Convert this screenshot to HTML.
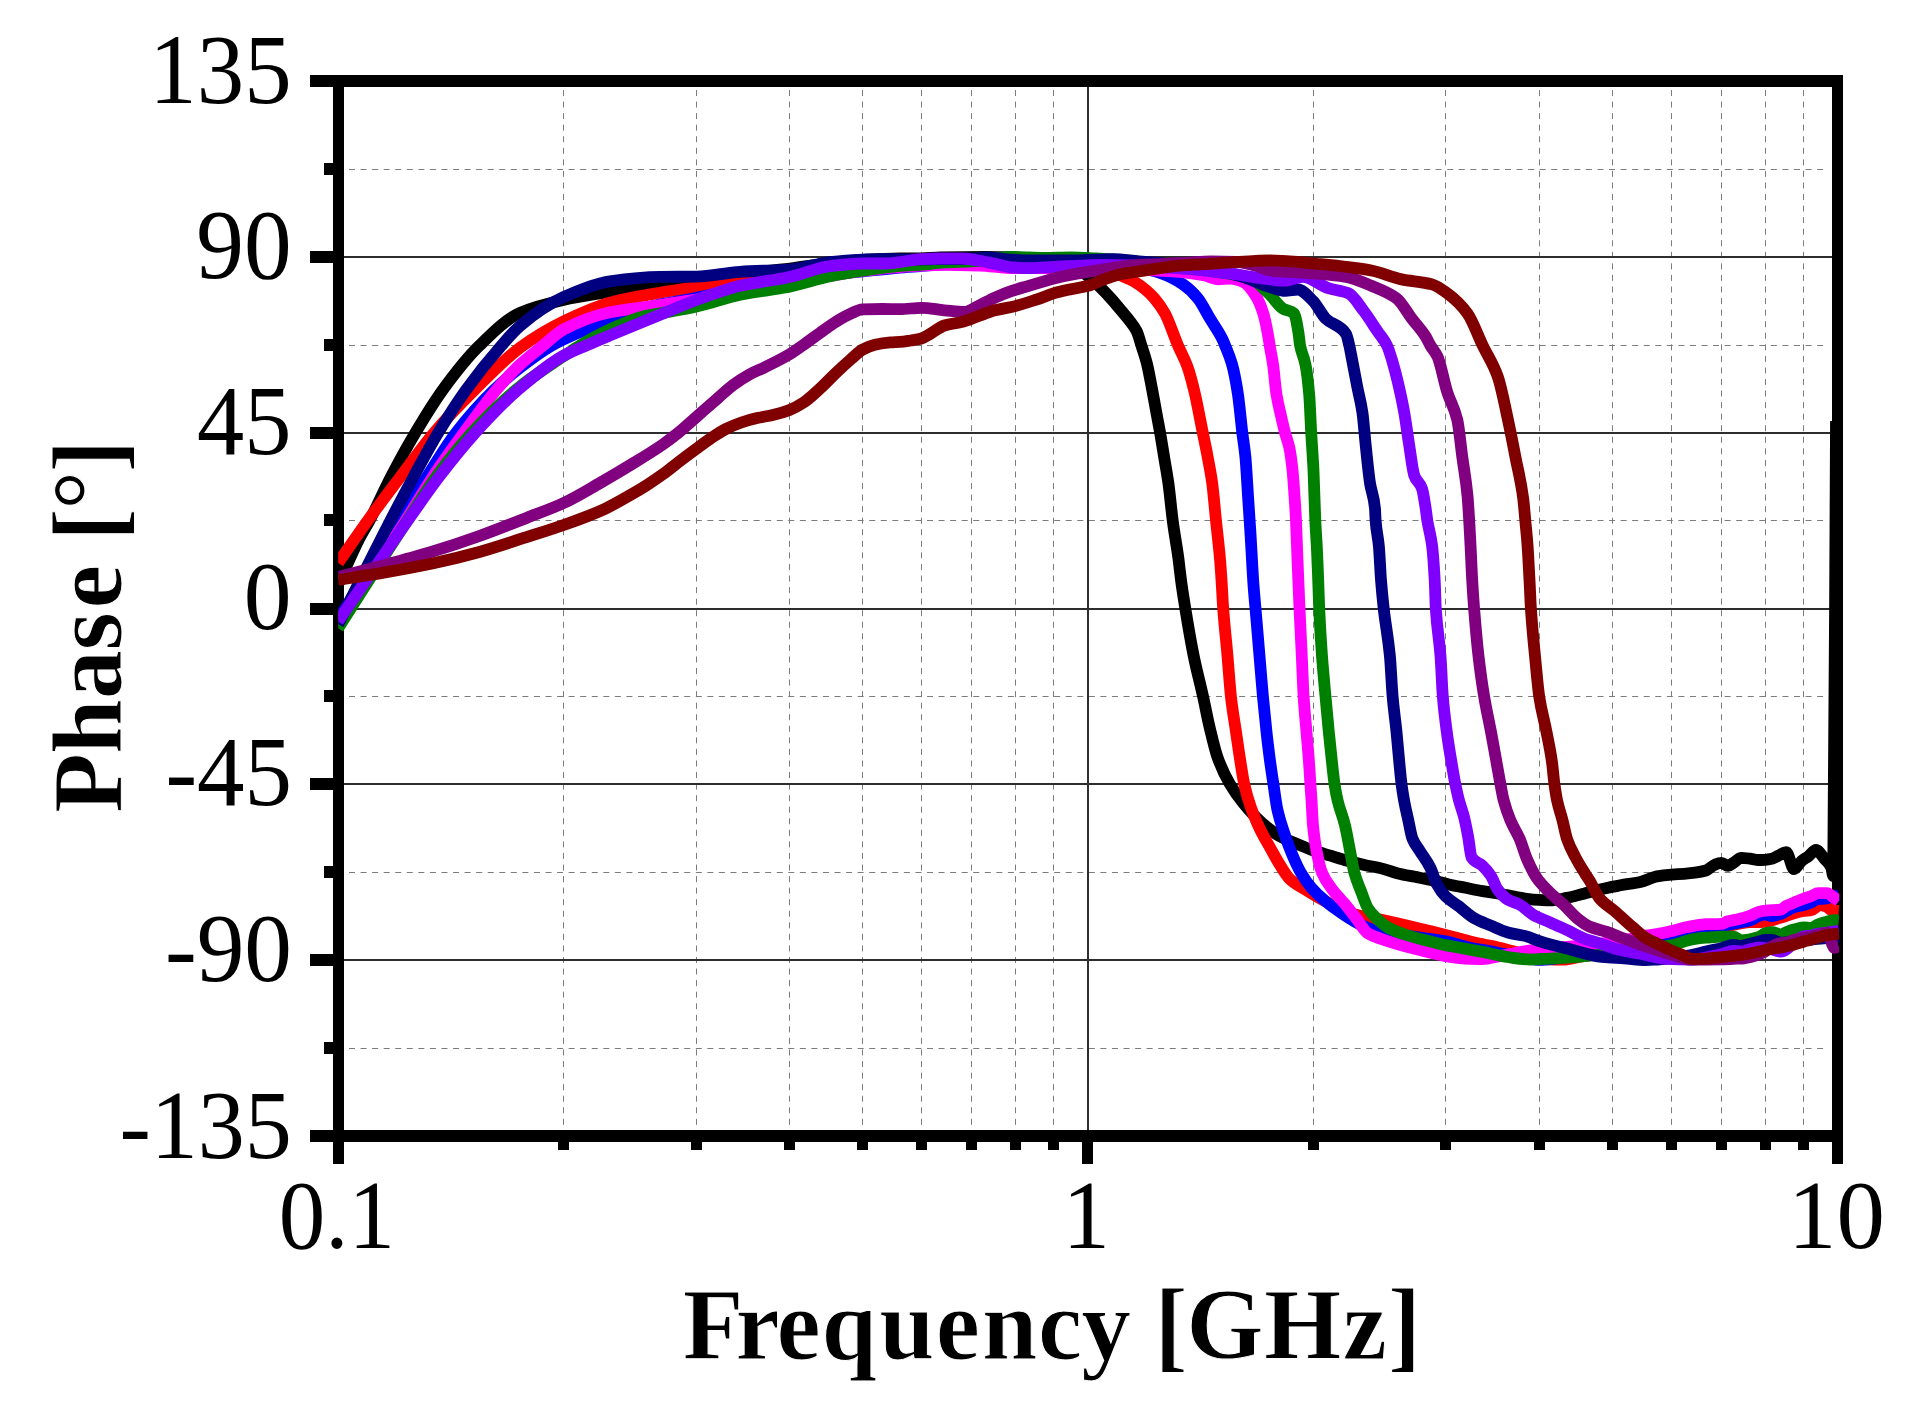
<!DOCTYPE html><html><head><meta charset="utf-8"><title>Phase vs Frequency</title>
<style>html,body{margin:0;padding:0;background:#fff}svg{display:block}text{font-family:"Liberation Serif",serif;font-size:100px;fill:#000}</style></head><body>
<svg width="1910" height="1422" viewBox="0 0 1910 1422">
<rect width="1910" height="1422" fill="#fff"/>
<path d="M563.5 90V1125M696.5 90V1125M789.5 90V1125M862.5 90V1125M921.5 90V1125M971.5 90V1125M1015.5 90V1125M1053.5 90V1125M1313.5 90V1125M1445.5 90V1125M1539.5 90V1125M1612.5 90V1125M1671.5 90V1125M1721.5 90V1125M1765.5 90V1125M1803.5 90V1125M349 169.5H1828M349 345.5H1828M349 520.5H1828M349 696.5H1828M349 872.5H1828M349 1048.5H1828" stroke="#7c7c7c" stroke-width="1" stroke-dasharray="6 5.56" fill="none"/>
<path d="M338 257H1838M338 433H1838M338 609H1838M338 784H1838M338 960H1838M1088 81V1136" stroke="#2d2d2d" stroke-width="2" fill="none"/>
<path d="M333 75H1843V87H333ZM333 1130H1843V1142H333ZM333 75H344V1142H333ZM1832 75H1843V1142H1832ZM310 75H334V87H310ZM310 251H334V263H310ZM310 427H334V439H310ZM310 603H334V615H310ZM310 778H334V790H310ZM310 954H334V966H310ZM310 1130H334V1142H310ZM324 163H334V175H324ZM324 339H334V351H324ZM324 514H334V526H324ZM324 690H334V702H324ZM324 866H334V878H324ZM324 1042H334V1054H324ZM333 1141H344V1164H333ZM1082 1141H1093V1164H1082ZM1832 1141H1843V1164H1832ZM558 1141H569V1150H558ZM691 1141H702V1150H691ZM784 1141H795V1150H784ZM857 1141H868V1150H857ZM916 1141H927V1150H916ZM966 1141H977V1150H966ZM1010 1141H1021V1150H1010ZM1048 1141H1059V1150H1048ZM1308 1141H1319V1150H1308ZM1440 1141H1451V1150H1440ZM1534 1141H1545V1150H1534ZM1607 1141H1618V1150H1607ZM1666 1141H1677V1150H1666ZM1716 1141H1727V1150H1716ZM1760 1141H1771V1150H1760ZM1798 1141H1809V1150H1798Z" fill="#000"/>
<clipPath id="c"><rect x="338.2" y="60" width="1501" height="1100"/></clipPath>
<g clip-path="url(#c)" fill="none" stroke-width="11.8" stroke-linejoin="round">
<path stroke="#000" d="M338.1 584.0C340.6 578.7 343.1 573.4 345.6 568.1C349.9 558.8 354.3 548.4 358.6 540.0C362.3 532.9 365.9 527.3 369.6 520.4C376.9 506.7 384.1 489.9 391.4 476.0C399.4 460.7 407.4 446.2 415.4 432.8C424.5 417.5 433.6 402.5 442.7 390.0C455.0 373.2 467.2 357.5 479.5 345.6C493.0 332.5 506.5 318.8 520.0 312.9C534.5 306.6 548.9 303.2 563.4 300.0C578.9 296.5 594.5 294.4 610.0 291.7C626.7 288.9 643.3 285.8 660.0 283.5C672.1 281.8 684.3 280.5 696.4 279.0C710.9 277.2 725.5 275.1 740.0 273.5C756.7 271.6 773.3 270.4 790.0 268.5C803.3 266.9 816.7 264.5 830.0 263.0C840.7 261.8 851.3 260.6 862.0 260.0C874.7 259.3 887.3 258.6 900.0 258.5C907.1 258.4 914.3 258.5 921.4 258.4C927.6 258.3 933.8 257.6 940.0 257.5C955.0 257.2 970.0 257.0 985.0 257.0C993.3 257.0 1001.7 257.1 1010.0 257.2C1020.0 257.3 1030.0 257.9 1040.0 258.5C1046.7 258.9 1053.3 259.4 1060.0 260.5C1063.3 261.1 1066.7 262.5 1070.0 264.0C1073.3 265.5 1076.7 267.7 1080.0 270.0C1083.3 272.3 1086.7 275.2 1090.0 278.0C1093.5 281.0 1097.0 284.1 1100.5 287.5C1104.7 291.6 1109.0 296.2 1113.2 301.0C1116.0 304.2 1118.8 307.7 1121.6 311.1C1124.4 314.5 1127.2 317.5 1130.0 321.3C1132.3 324.3 1134.5 326.7 1136.8 331.4C1138.3 334.5 1139.9 340.7 1141.4 345.6C1143.2 351.4 1145.1 356.3 1146.9 363.5C1148.6 370.2 1150.3 380.0 1152.0 388.8C1153.7 397.5 1155.3 407.0 1157.0 416.0C1158.0 421.6 1159.1 426.8 1160.1 432.7C1161.6 441.2 1163.1 450.9 1164.6 460.0C1165.9 467.7 1167.1 474.2 1168.4 483.2C1169.8 493.4 1171.3 509.6 1172.7 520.5C1174.6 535.2 1176.6 544.6 1178.5 559.1C1179.3 565.4 1180.2 573.8 1181.0 580.0C1182.4 590.7 1183.9 599.7 1185.3 608.5C1188.1 625.7 1190.9 642.2 1193.7 656.0C1196.8 671.2 1199.9 682.3 1203.0 696.3C1205.2 706.1 1207.3 717.7 1209.5 726.8C1212.2 738.0 1214.8 749.7 1217.5 757.2C1221.6 768.8 1225.7 776.8 1229.8 783.9C1234.2 791.5 1238.6 797.4 1243.0 802.8C1249.3 810.6 1255.7 817.5 1262.0 823.0C1268.0 828.2 1274.0 833.0 1280.0 836.3C1285.6 839.4 1291.3 841.5 1296.9 843.9C1302.5 846.3 1308.2 848.7 1313.8 850.6C1319.4 852.5 1325.0 854.0 1330.6 855.7C1336.2 857.4 1341.9 859.3 1347.5 860.8C1353.1 862.3 1358.8 863.7 1364.4 865.0C1370.0 866.3 1375.7 867.0 1381.3 868.4C1386.9 869.7 1392.5 872.1 1398.1 873.4C1403.7 874.8 1409.4 875.7 1415.0 876.8C1420.6 877.9 1426.3 878.9 1431.9 880.2C1437.5 881.5 1443.2 883.1 1448.8 884.4C1454.4 885.7 1460.1 886.7 1465.7 887.8C1471.3 888.9 1476.9 890.1 1482.5 891.1C1488.1 892.1 1493.8 892.7 1499.4 893.7C1505.0 894.7 1510.7 896.0 1516.3 897.0C1521.9 898.0 1527.6 899.2 1533.2 899.6C1538.8 900.0 1544.4 900.4 1550.0 900.4C1555.6 900.4 1561.3 898.9 1566.9 897.9C1572.5 896.9 1578.2 895.1 1583.8 893.7C1589.2 892.3 1594.6 890.8 1600.0 889.5C1602.3 889.0 1604.6 888.5 1606.9 888.0C1612.5 886.8 1618.2 885.6 1623.8 884.6C1629.3 883.6 1634.9 883.3 1640.4 882.1C1645.9 880.9 1651.5 877.4 1657.0 876.4C1661.9 875.5 1666.7 875.0 1671.6 874.6C1675.7 874.3 1679.9 874.1 1684.0 873.8C1687.7 873.5 1691.3 873.2 1695.0 872.7C1698.7 872.2 1702.3 871.6 1706.0 870.5C1708.9 869.6 1711.9 865.8 1714.8 864.7C1717.0 863.8 1719.3 862.8 1721.5 862.8C1723.7 862.8 1725.8 865.8 1728.0 865.8C1729.8 865.8 1731.7 863.9 1733.5 862.8C1736.1 861.3 1738.6 857.8 1741.2 857.8C1744.1 857.8 1747.1 858.3 1750.0 858.7C1752.9 859.1 1755.8 860.0 1758.7 860.0C1761.0 860.0 1763.2 859.9 1765.5 859.8C1767.7 859.7 1769.8 859.2 1772.0 858.7C1774.2 858.2 1776.3 856.6 1778.5 855.6C1781.1 854.4 1783.6 852.1 1786.2 852.1C1788.8 852.1 1791.4 869.1 1794.0 869.1C1796.5 869.1 1799.1 863.0 1801.6 860.9C1803.8 859.1 1806.0 858.1 1808.2 856.5C1810.8 854.6 1813.4 850.0 1816.0 850.0C1818.9 850.0 1821.8 855.9 1824.7 859.2C1826.9 861.7 1829.1 862.7 1831.3 867.5C1831.9 868.9 1832.6 876.0 1833.2 876.0C1834.1 876.0 1835.1 572.7 1836.0 421.0"/>
<path stroke="#f00" d="M338.1 562.9C348.0 548.7 358.0 534.1 367.9 520.4C378.9 505.1 390.0 490.6 401.0 476.0C412.0 461.4 423.1 445.8 434.1 432.8C447.5 417.0 461.0 403.3 474.4 390.0C489.9 374.6 505.5 358.2 521.0 346.9C535.1 336.7 549.3 328.4 563.4 321.5C578.9 314.0 594.5 306.8 610.0 302.6C626.7 298.1 643.3 295.6 660.0 292.7C672.1 290.6 684.3 289.0 696.4 287.0C710.9 284.6 725.5 281.8 740.0 279.5C756.7 276.8 773.3 274.9 790.0 272.0C798.3 270.5 806.7 268.5 815.0 267.0C823.3 265.5 831.7 263.9 840.0 263.0C848.3 262.1 856.7 261.4 865.0 261.0C876.7 260.5 888.3 260.3 900.0 260.0C916.7 259.6 933.3 259.0 950.0 259.0C966.7 259.0 983.3 259.2 1000.0 259.5C1016.7 259.8 1033.3 260.3 1050.0 261.0C1063.3 261.6 1076.7 262.3 1090.0 264.0C1096.7 264.9 1103.3 267.5 1110.0 270.0C1113.9 271.5 1117.7 273.8 1121.6 275.7C1125.7 277.7 1129.9 279.1 1134.0 281.5C1138.3 283.9 1142.6 287.2 1146.9 290.9C1149.4 293.0 1151.9 295.5 1154.4 298.4C1157.9 302.5 1161.5 307.2 1165.0 313.5C1169.3 321.3 1173.7 335.4 1178.0 345.5C1181.2 352.9 1184.3 357.9 1187.5 366.7C1189.8 373.2 1192.2 382.3 1194.5 392.0C1197.3 403.5 1200.0 419.1 1202.8 432.7C1204.3 440.1 1205.8 447.0 1207.3 455.0C1208.9 463.7 1210.6 471.2 1212.2 483.2C1213.5 492.5 1214.7 508.2 1216.0 520.5C1217.3 533.5 1218.7 543.5 1220.0 559.1C1220.5 565.0 1221.0 572.4 1221.5 580.0C1222.1 588.6 1222.6 600.7 1223.2 608.5C1224.6 628.2 1226.1 639.6 1227.5 656.0C1228.6 669.0 1229.8 686.2 1230.9 696.3C1232.6 711.5 1234.3 720.2 1236.0 731.9C1237.5 742.2 1239.0 752.9 1240.5 762.3C1241.7 770.0 1243.0 778.4 1244.2 783.9C1246.5 794.1 1248.7 801.3 1251.0 807.8C1253.8 815.9 1256.7 822.2 1259.5 828.1C1263.2 835.8 1266.8 841.8 1270.5 848.4C1273.7 854.1 1276.8 860.0 1280.0 865.0C1283.4 870.3 1286.7 876.2 1290.1 879.3C1295.2 884.0 1300.2 886.3 1305.3 889.5C1310.9 893.1 1316.6 896.5 1322.2 899.6C1327.8 902.7 1333.5 905.5 1339.1 908.0C1344.7 910.5 1350.4 913.3 1356.0 914.8C1364.4 917.1 1372.9 918.0 1381.3 919.8C1389.7 921.6 1398.2 923.5 1406.6 925.5C1415.0 927.5 1423.5 929.5 1431.9 931.6C1436.4 932.7 1440.9 933.9 1445.4 935.0C1449.3 936.0 1453.3 937.0 1457.2 938.0C1461.5 939.1 1465.7 940.4 1470.0 941.5C1473.3 942.3 1476.7 943.1 1480.0 943.8C1484.0 944.6 1488.0 945.2 1492.0 946.1C1499.3 947.7 1506.7 949.8 1514.0 951.6C1521.0 953.3 1528.0 955.1 1535.0 956.5C1540.0 957.5 1545.0 959.0 1550.0 959.3C1554.5 959.5 1559.0 959.7 1563.5 959.7C1569.0 959.7 1574.5 957.7 1580.0 956.8C1585.5 955.9 1591.0 955.0 1596.5 954.0C1604.3 952.6 1612.2 951.0 1620.0 949.5C1630.0 947.5 1640.0 945.6 1650.0 943.5C1660.0 941.4 1670.0 939.2 1680.0 937.0C1690.0 934.8 1700.0 932.8 1710.0 930.5C1719.7 928.3 1729.3 925.4 1739.0 923.7C1742.7 923.0 1746.3 922.0 1750.0 922.0C1753.7 922.0 1757.3 922.0 1761.0 922.0C1767.6 922.0 1774.1 919.4 1780.7 917.6C1785.1 916.4 1789.6 914.4 1794.0 913.2C1797.2 912.3 1800.3 911.5 1803.5 911.0C1806.2 910.5 1808.8 910.5 1811.5 909.9C1814.4 909.3 1817.4 905.0 1820.3 905.0C1822.5 905.0 1824.8 906.1 1827.0 907.0C1828.8 907.8 1830.6 910.4 1832.4 910.6C1834.5 910.8 1836.7 910.9 1838.8 911.0"/>
<path stroke="#00f" d="M338.1 619.8C358.7 586.7 379.4 553.6 400.0 520.4C409.2 505.6 418.3 490.3 427.5 476.0C437.0 461.1 446.5 445.1 456.0 432.8C468.7 416.3 481.4 402.3 494.1 390.0C502.7 381.6 511.4 374.3 520.0 367.6C530.5 359.5 541.0 351.7 551.5 345.6C555.5 343.3 559.4 341.3 563.4 339.4C578.9 332.1 594.5 326.1 610.0 320.5C626.7 314.5 643.3 308.1 660.0 304.5C667.0 303.0 674.0 302.1 681.0 300.8C686.1 299.9 691.3 298.9 696.4 297.9C710.9 295.1 725.5 291.5 740.0 289.0C756.3 286.1 772.7 284.0 789.0 281.5C802.7 279.4 816.3 276.8 830.0 275.0C840.8 273.6 851.6 272.5 862.4 271.3C874.9 270.0 887.5 268.6 900.0 267.5C907.1 266.9 914.3 266.4 921.4 265.9C934.3 265.0 947.1 263.8 960.0 263.5C973.3 263.2 986.7 263.0 1000.0 263.0C1016.7 263.0 1033.3 263.7 1050.0 264.0C1066.7 264.3 1083.3 264.5 1100.0 265.0C1113.3 265.4 1126.7 266.4 1140.0 268.0C1147.7 268.9 1155.3 271.3 1163.0 274.0C1169.7 276.3 1176.3 279.9 1183.0 284.4C1188.0 287.8 1193.0 292.3 1198.0 298.4C1202.0 303.3 1206.0 311.9 1210.0 318.6C1214.1 325.4 1218.2 330.6 1222.3 338.9C1223.2 340.8 1224.2 343.2 1225.1 345.5C1227.4 351.2 1229.7 356.0 1232.0 364.2C1234.0 371.3 1236.0 381.5 1238.0 394.6C1239.4 404.0 1240.9 420.8 1242.3 432.7C1243.4 441.5 1244.4 446.6 1245.5 457.8C1246.3 466.5 1247.2 483.1 1248.0 495.8C1248.8 508.5 1249.7 520.4 1250.5 533.8C1251.5 549.9 1252.5 571.3 1253.5 585.0C1254.2 594.2 1254.8 600.6 1255.5 608.5C1256.8 624.2 1258.2 640.2 1259.5 656.0C1260.6 669.4 1261.8 684.1 1262.9 696.3C1264.1 709.2 1265.3 721.1 1266.5 731.9C1267.7 743.0 1269.0 753.2 1270.2 762.3C1271.3 770.2 1272.3 776.9 1273.4 783.9C1274.8 792.9 1276.1 803.9 1277.5 810.1C1279.8 820.7 1282.2 826.8 1284.5 833.8C1287.0 841.3 1289.5 848.1 1292.0 854.0C1294.9 861.0 1297.9 867.6 1300.8 872.6C1304.4 878.7 1307.9 883.7 1311.5 887.8C1316.2 893.2 1320.8 897.4 1325.5 901.3C1331.7 906.5 1337.9 910.7 1344.1 914.8C1349.7 918.5 1355.4 922.2 1361.0 924.9C1366.6 927.6 1372.3 930.4 1377.9 931.6C1384.6 933.0 1391.4 933.6 1398.1 934.5C1406.6 935.7 1415.0 936.8 1423.5 938.0C1430.8 939.1 1438.1 940.0 1445.4 941.4C1453.6 943.0 1461.8 946.1 1470.0 947.8C1477.3 949.3 1484.7 950.2 1492.0 951.6C1495.7 952.3 1499.3 953.1 1503.0 953.8C1510.2 955.2 1517.5 957.0 1524.7 958.0C1529.8 958.7 1534.9 959.8 1540.0 959.8C1542.3 959.8 1544.7 959.6 1547.0 959.5C1552.5 959.2 1558.0 958.3 1563.5 957.3C1567.2 956.7 1570.8 955.4 1574.5 954.6C1583.0 952.7 1591.5 951.1 1600.0 949.5C1610.0 947.6 1620.0 945.8 1630.0 944.0C1640.0 942.2 1650.0 940.4 1660.0 938.5C1671.7 936.3 1683.3 933.8 1695.0 931.5C1703.3 929.8 1711.7 928.2 1720.0 926.5C1726.3 925.2 1732.7 923.9 1739.0 922.6C1742.7 921.9 1746.3 921.5 1750.0 920.4C1752.9 919.6 1755.8 917.0 1758.7 916.0C1761.0 915.3 1763.2 914.3 1765.5 914.3C1767.7 914.3 1769.8 916.0 1772.0 916.0C1774.9 916.0 1777.8 914.8 1780.7 913.8C1782.5 913.2 1784.4 911.9 1786.2 911.0C1788.8 909.7 1791.4 908.0 1794.0 907.2C1797.2 906.2 1800.3 905.9 1803.5 905.0C1806.2 904.3 1808.8 903.3 1811.5 902.2C1813.7 901.3 1815.8 898.9 1818.0 898.9C1819.5 898.9 1821.0 898.9 1822.5 898.9C1825.0 898.9 1827.5 898.0 1830.0 897.5C1832.9 896.9 1835.9 896.2 1838.8 895.5"/>
<path stroke="#f0f" d="M338.1 624.0C360.6 589.5 383.2 555.8 405.7 520.4C414.9 505.9 424.2 489.9 433.4 476.0C443.6 460.7 453.7 446.7 463.9 432.8C474.7 418.0 485.5 402.7 496.3 390.0C504.2 380.7 512.1 372.0 520.0 364.6C527.7 357.5 535.3 351.8 543.0 345.6C549.8 340.1 556.6 333.1 563.4 329.5C578.9 321.3 594.5 315.4 610.0 312.2C626.7 308.8 643.3 307.6 660.0 305.1C667.0 304.0 674.0 302.8 681.0 301.7C686.1 300.9 691.3 300.3 696.4 299.5C710.9 297.3 725.5 294.4 740.0 292.0C756.3 289.3 772.7 286.9 789.0 284.0C802.7 281.6 816.3 278.4 830.0 276.0C840.7 274.2 851.3 272.3 862.0 271.0C874.7 269.4 887.3 267.8 900.0 267.0C914.7 266.0 929.3 264.9 944.0 264.9C956.0 264.9 968.0 265.2 980.0 265.5C990.0 265.8 1000.0 268.0 1010.0 268.0C1023.3 268.0 1036.7 268.0 1050.0 268.0C1066.7 268.0 1083.3 268.0 1100.0 268.0C1116.7 268.0 1133.3 269.2 1150.0 270.0C1159.9 270.5 1169.8 270.9 1179.7 271.8C1188.1 272.5 1196.6 273.8 1205.0 275.6C1209.2 276.5 1213.5 279.4 1217.7 279.4C1221.9 279.4 1226.2 278.6 1230.4 278.6C1234.6 278.6 1238.8 280.1 1243.0 281.9C1247.2 283.7 1251.5 289.3 1255.7 295.8C1258.2 299.7 1260.8 305.5 1263.3 313.5C1265.1 319.2 1266.9 328.6 1268.7 338.9C1269.0 340.8 1269.4 343.4 1269.7 345.5C1270.8 352.3 1271.9 356.7 1273.0 364.2C1274.2 372.2 1275.3 387.4 1276.5 394.6C1278.2 404.9 1279.8 410.6 1281.5 418.0C1282.7 423.1 1283.8 428.2 1285.0 432.7C1286.5 438.3 1287.9 441.0 1289.4 448.0C1290.4 452.9 1291.5 460.3 1292.5 470.0C1293.2 476.2 1293.8 486.1 1294.5 495.8C1295.0 503.1 1295.5 510.4 1296.0 520.5C1296.5 530.6 1297.0 547.4 1297.5 560.0C1298.2 576.9 1298.8 593.6 1299.5 608.5C1300.3 625.6 1301.0 639.5 1301.8 656.0C1302.4 668.9 1303.0 686.6 1303.6 696.3C1304.6 712.0 1305.5 720.1 1306.5 731.9C1307.3 742.1 1308.2 750.8 1309.0 762.3C1309.5 768.7 1309.9 776.9 1310.4 783.9C1310.8 789.4 1311.1 794.3 1311.5 800.0C1312.0 807.8 1312.5 820.0 1313.0 825.3C1314.2 837.8 1315.3 844.5 1316.5 850.6C1318.3 860.2 1320.2 868.1 1322.0 872.6C1325.4 880.9 1328.9 884.9 1332.3 889.5C1336.2 894.8 1340.2 898.3 1344.1 903.0C1348.1 907.8 1352.0 913.0 1356.0 918.1C1359.9 923.1 1363.9 930.8 1367.8 933.3C1372.3 936.2 1376.8 937.4 1381.3 939.0C1386.9 941.0 1392.5 942.7 1398.1 944.3C1403.7 945.9 1409.4 947.4 1415.0 948.8C1420.6 950.2 1426.3 951.7 1431.9 953.0C1436.4 954.1 1440.9 955.4 1445.4 956.1C1452.2 957.2 1458.9 958.3 1465.7 958.6C1471.3 958.8 1476.9 959.0 1482.5 959.0C1488.1 959.0 1493.8 957.1 1499.4 956.1C1505.0 955.1 1510.7 953.7 1516.3 952.7C1521.9 951.7 1527.6 950.9 1533.2 950.2C1538.8 949.5 1544.4 949.1 1550.0 948.5C1558.3 947.7 1566.7 946.8 1575.0 946.0C1584.0 945.1 1593.0 944.6 1602.0 943.4C1605.7 942.9 1609.3 941.8 1613.0 941.2C1620.3 940.0 1627.7 939.7 1635.0 938.4C1638.7 937.8 1642.3 936.3 1646.0 935.6C1649.7 934.9 1653.3 934.7 1657.0 934.1C1661.9 933.3 1666.7 932.2 1671.6 931.1C1675.7 930.1 1679.9 928.7 1684.0 927.8C1687.7 927.0 1691.3 926.2 1695.0 925.6C1698.7 925.0 1702.3 924.4 1706.0 924.2C1711.2 924.0 1716.3 924.1 1721.5 923.8C1723.7 923.7 1725.8 921.9 1728.0 921.3C1731.7 920.3 1735.3 920.0 1739.0 919.1C1742.7 918.2 1746.3 917.1 1750.0 915.8C1752.9 914.7 1755.8 912.7 1758.7 911.9C1761.0 911.3 1763.2 910.8 1765.5 910.6C1770.6 910.1 1775.6 910.3 1780.7 909.7C1782.5 909.5 1784.4 906.9 1786.2 905.9C1788.8 904.5 1791.4 903.7 1794.0 902.6C1797.2 901.3 1800.3 899.9 1803.5 898.7C1806.2 897.7 1808.8 897.0 1811.5 896.0C1813.7 895.2 1815.8 893.2 1818.0 893.2C1821.0 893.2 1824.0 893.2 1827.0 893.2C1828.8 893.2 1830.6 895.3 1832.4 896.5C1834.5 897.9 1836.7 899.4 1838.8 900.9"/>
<path stroke="#008000" d="M338.1 628.3C361.2 592.3 384.2 555.6 407.3 520.4C417.1 505.4 427.0 489.4 436.8 476.0C448.5 460.1 460.2 445.6 471.9 432.8C486.9 416.4 502.0 401.3 517.0 389.0C529.9 378.4 542.8 369.9 555.7 361.3C558.3 359.6 560.8 358.1 563.4 356.4C568.9 352.9 574.4 348.9 579.9 345.6C589.9 339.6 600.0 334.0 610.0 329.5C621.7 324.2 633.3 318.7 645.0 316.0C650.0 314.9 655.0 314.3 660.0 313.4C672.1 311.2 684.3 309.2 696.4 306.5C710.9 303.3 725.5 297.8 740.0 294.8C756.5 291.4 772.9 289.9 789.4 286.6C802.9 283.9 816.5 279.1 830.0 276.3C840.8 274.1 851.6 272.3 862.4 270.7C872.9 269.1 883.3 267.4 893.8 266.5C903.0 265.7 912.2 265.3 921.4 264.6C928.9 264.0 936.5 262.9 944.0 262.4C954.3 261.8 964.7 261.7 975.0 261.0C987.3 260.2 999.6 257.0 1011.9 257.0C1022.9 257.0 1034.0 258.0 1045.0 258.0C1053.7 258.0 1062.3 257.5 1071.0 257.5C1079.3 257.5 1087.7 258.1 1096.0 258.5C1107.3 259.1 1118.7 260.0 1130.0 261.0C1143.3 262.1 1156.7 263.4 1170.0 265.0C1183.3 266.6 1196.7 268.8 1210.0 271.0C1223.5 273.2 1237.1 273.7 1250.6 278.1C1254.8 279.5 1259.1 284.5 1263.3 288.2C1265.5 290.2 1267.8 292.3 1270.0 294.6C1274.2 298.9 1278.5 305.9 1282.7 308.5C1286.5 310.9 1290.2 310.1 1294.0 313.5C1295.5 314.9 1297.0 324.2 1298.5 333.0C1299.0 336.1 1299.6 342.7 1300.1 345.5C1301.9 354.7 1303.6 355.4 1305.4 364.2C1306.7 370.5 1307.9 379.7 1309.2 394.6C1309.9 402.4 1310.5 420.9 1311.2 432.7C1312.0 446.3 1312.7 454.5 1313.5 470.5C1314.1 483.0 1314.7 507.8 1315.3 520.5C1315.8 531.1 1316.3 536.4 1316.8 546.5C1317.3 555.9 1317.7 567.8 1318.2 580.0C1318.5 588.7 1318.9 601.1 1319.2 608.5C1320.1 629.2 1321.1 643.1 1322.0 656.0C1323.2 672.1 1324.3 683.3 1325.5 696.3C1326.6 708.5 1327.7 720.8 1328.8 731.9C1329.9 742.7 1330.9 752.7 1332.0 762.3C1332.8 769.8 1333.7 778.3 1334.5 783.9C1335.5 790.6 1336.5 795.7 1337.5 800.0C1340.0 810.7 1342.5 815.0 1345.0 825.3C1346.7 832.1 1348.3 842.1 1350.0 850.6C1351.4 857.9 1352.9 867.3 1354.3 872.6C1356.5 880.8 1358.8 885.3 1361.0 891.1C1363.3 897.0 1365.5 904.3 1367.8 908.0C1370.6 912.6 1373.4 915.4 1376.2 918.1C1380.1 921.9 1384.1 925.3 1388.0 927.5C1394.2 930.9 1400.4 933.0 1406.6 935.0C1415.0 937.8 1423.5 939.8 1431.9 941.9C1436.4 943.0 1440.9 944.2 1445.4 945.1C1449.3 945.9 1453.3 946.6 1457.2 947.3C1465.6 948.9 1474.1 950.3 1482.5 951.9C1490.9 953.5 1499.4 955.8 1507.8 957.0C1515.1 958.1 1522.5 959.5 1529.8 959.5C1536.5 959.5 1543.3 958.9 1550.0 958.6C1558.5 958.2 1566.9 957.6 1575.4 957.0C1586.9 956.1 1598.5 954.8 1610.0 953.5C1620.0 952.3 1630.0 950.8 1640.0 949.5C1646.7 948.6 1653.3 947.6 1660.0 946.8C1663.9 946.3 1667.7 946.1 1671.6 945.4C1675.7 944.7 1679.9 942.7 1684.0 941.6C1687.7 940.6 1691.3 939.3 1695.0 938.8C1698.7 938.3 1702.3 938.0 1706.0 937.7C1711.2 937.3 1716.3 936.6 1721.5 936.6C1725.5 936.6 1729.5 936.6 1733.5 936.6C1736.1 936.6 1738.6 940.5 1741.2 940.5C1744.1 940.5 1747.1 939.9 1750.0 939.4C1752.9 938.9 1755.8 938.2 1758.7 937.2C1761.0 936.4 1763.2 933.9 1765.5 933.3C1767.7 932.7 1769.8 932.2 1772.0 932.2C1774.9 932.2 1777.8 934.4 1780.7 934.4C1782.5 934.4 1784.4 932.9 1786.2 932.2C1788.8 931.2 1791.4 930.2 1794.0 929.5C1797.2 928.6 1800.3 927.3 1803.5 927.3C1806.2 927.3 1808.8 927.8 1811.5 927.8C1813.7 927.8 1815.8 925.3 1818.0 924.5C1821.0 923.4 1824.0 922.6 1827.0 921.8C1829.2 921.2 1831.3 920.1 1833.5 920.1C1835.3 920.1 1837.0 920.5 1838.8 920.7"/>
<path stroke="#000080" d="M338.1 624.4C355.6 589.7 373.0 554.1 390.5 520.4C398.3 505.3 406.2 490.4 414.0 476.0C422.1 461.2 430.1 446.2 438.2 432.8C447.5 417.5 456.7 402.9 466.0 390.0C477.8 373.6 489.6 359.0 501.4 345.6C507.6 338.5 513.8 331.1 520.0 325.9C534.5 313.7 548.9 303.7 563.4 297.2C578.9 290.2 594.5 283.5 610.0 281.3C626.7 279.0 643.3 277.1 660.0 276.9C672.1 276.7 684.3 276.8 696.4 276.6C710.9 276.4 725.5 272.7 740.0 271.8C756.5 270.7 772.9 270.8 789.4 269.6C802.9 268.6 816.5 263.4 830.0 262.0C840.8 260.9 851.6 260.2 862.4 259.7C870.0 259.4 877.7 259.0 885.3 259.0C893.7 259.0 902.2 259.5 910.6 259.5C923.7 259.5 936.9 259.2 950.0 259.0C958.3 258.9 966.7 258.8 975.0 258.5C978.9 258.4 982.7 257.3 986.6 257.3C995.0 257.3 1003.5 259.2 1011.9 259.7C1017.5 260.0 1023.2 260.5 1028.8 260.5C1034.4 260.5 1040.1 260.5 1045.7 260.5C1054.1 260.5 1062.6 260.5 1071.0 260.5C1079.4 260.5 1087.9 260.0 1096.3 259.7C1101.9 259.5 1107.6 259.2 1113.2 259.2C1121.6 259.2 1130.1 260.7 1138.5 261.4C1145.8 262.0 1153.1 262.3 1160.4 263.0C1173.6 264.2 1186.8 266.0 1200.0 268.0C1213.3 270.1 1226.7 272.5 1240.0 276.0C1250.0 278.6 1260.0 284.1 1270.0 287.0C1275.1 288.5 1280.1 290.8 1285.2 290.8C1289.4 290.8 1293.6 289.5 1297.8 289.5C1302.9 289.5 1307.9 295.9 1313.0 300.9C1317.2 305.1 1321.5 314.4 1325.7 318.6C1332.5 325.3 1339.2 323.9 1346.0 333.8C1347.1 335.4 1348.2 340.9 1349.3 345.5C1350.0 348.6 1350.8 352.8 1351.5 356.6C1353.4 366.5 1355.4 377.2 1357.3 387.0C1359.0 395.7 1360.7 400.8 1362.4 412.3C1363.5 419.8 1364.6 434.9 1365.7 445.2C1367.1 458.7 1368.6 473.9 1370.0 483.2C1371.7 494.0 1373.3 492.5 1375.0 508.5C1375.2 510.4 1375.4 518.0 1375.6 520.5C1376.7 534.3 1377.8 534.6 1378.9 546.5C1379.6 554.1 1380.3 571.0 1381.0 580.0C1381.9 591.5 1382.8 600.3 1383.7 608.5C1385.8 627.2 1387.8 634.2 1389.9 656.0C1390.8 665.5 1391.7 686.0 1392.6 696.3C1393.9 711.2 1395.2 718.9 1396.5 731.9C1397.4 741.2 1398.4 752.7 1399.3 762.3C1400.0 769.8 1400.8 778.2 1401.5 783.9C1402.3 790.4 1403.2 795.4 1404.0 800.0C1405.4 807.9 1406.9 813.8 1408.3 820.3C1409.7 826.7 1411.1 835.3 1412.5 838.8C1414.9 844.7 1417.2 846.7 1419.6 850.6C1423.1 856.4 1426.7 860.5 1430.2 867.5C1432.5 872.0 1434.7 880.3 1437.0 884.4C1439.8 889.5 1442.6 893.4 1445.4 896.2C1449.9 900.7 1454.4 902.9 1458.9 906.3C1464.0 910.2 1469.0 915.2 1474.1 918.1C1479.7 921.3 1485.4 923.3 1491.0 925.7C1496.6 928.1 1502.2 931.0 1507.8 932.5C1513.4 934.0 1519.1 934.5 1524.7 935.9C1530.3 937.3 1536.0 940.1 1541.6 941.8C1550.0 944.4 1558.5 946.4 1566.9 948.5C1578.6 951.4 1590.3 955.7 1602.0 956.9C1609.3 957.6 1616.7 957.9 1624.0 958.4C1631.3 958.9 1638.7 960.0 1646.0 960.0C1649.7 960.0 1653.3 959.7 1657.0 959.5C1662.8 959.1 1668.6 958.5 1674.4 957.8C1677.6 957.4 1680.8 956.8 1684.0 956.2C1687.7 955.6 1691.3 955.0 1695.0 954.2C1698.7 953.4 1702.3 952.3 1706.0 951.5C1711.2 950.3 1716.3 949.4 1721.5 948.2C1725.5 947.2 1729.5 944.9 1733.5 944.9C1736.1 944.9 1738.6 946.0 1741.2 946.0C1744.1 946.0 1747.1 944.5 1750.0 943.8C1752.9 943.1 1755.8 942.3 1758.7 941.6C1761.0 941.0 1763.2 940.0 1765.5 940.0C1767.7 940.0 1769.8 940.0 1772.0 940.0C1774.9 940.0 1777.8 942.7 1780.7 942.7C1787.1 942.7 1793.6 941.2 1800.0 940.5C1805.0 940.0 1810.0 939.5 1815.0 939.1C1820.0 938.7 1825.0 938.5 1830.0 938.0C1832.9 937.7 1835.9 937.3 1838.8 937.0"/>
<path stroke="#8000ff" d="M338.1 621.2C361.3 587.6 384.6 553.3 407.8 520.4C418.4 505.4 429.1 489.8 439.7 476.0C451.5 460.6 463.4 445.9 475.2 432.8C489.6 416.9 504.1 401.7 518.5 389.3C533.5 376.5 548.4 363.9 563.4 355.7C571.5 351.3 579.6 348.3 587.7 344.8C595.1 341.6 602.6 338.5 610.0 335.4C626.7 328.4 643.3 321.6 660.0 314.8C672.1 309.8 684.3 304.4 696.4 300.0C710.9 294.7 725.5 289.2 740.0 285.8C756.5 282.0 772.9 280.6 789.4 277.0C802.9 274.1 816.5 267.7 830.0 266.1C840.8 264.8 851.6 263.5 862.4 263.5C870.0 263.5 877.7 263.5 885.3 263.5C893.7 263.5 902.2 261.5 910.6 260.5C914.2 260.1 917.8 259.5 921.4 259.2C926.2 258.9 931.1 258.5 935.9 258.5C944.4 258.5 952.8 258.5 961.3 258.5C966.9 258.5 972.5 259.7 978.1 260.5C983.7 261.3 989.4 262.8 995.0 263.9C1000.6 265.0 1006.3 266.9 1011.9 267.3C1017.5 267.7 1023.2 268.1 1028.8 268.1C1034.4 268.1 1040.1 267.6 1045.7 267.3C1051.3 267.0 1056.9 266.7 1062.5 266.4C1068.1 266.1 1073.8 265.8 1079.4 265.6C1086.3 265.4 1093.1 265.0 1100.0 265.0C1110.0 265.0 1120.0 265.2 1130.0 265.5C1140.0 265.8 1150.0 266.4 1160.0 267.0C1173.3 267.8 1186.7 268.8 1200.0 270.0C1213.3 271.2 1226.7 273.2 1240.0 275.0C1250.0 276.4 1260.0 278.4 1270.0 279.4C1275.1 279.9 1280.1 280.6 1285.2 280.6C1291.1 280.6 1297.0 276.8 1302.9 276.8C1311.3 276.8 1319.8 285.5 1328.2 288.2C1335.0 290.4 1341.7 290.4 1348.5 293.3C1353.6 295.5 1358.6 304.4 1363.7 311.0C1368.3 317.0 1372.9 324.5 1377.5 331.3C1380.7 336.0 1383.8 339.0 1387.0 345.5C1388.7 348.9 1390.3 354.6 1392.0 360.0C1393.9 366.3 1395.9 373.8 1397.8 381.9C1399.9 390.9 1402.1 400.5 1404.2 412.3C1405.9 421.6 1407.5 434.8 1409.2 445.2C1410.9 455.8 1412.6 471.0 1414.3 475.6C1416.8 482.4 1419.4 481.4 1421.9 488.2C1423.2 491.6 1424.4 500.4 1425.7 508.5C1426.2 511.9 1426.8 517.1 1427.3 520.5C1428.9 530.4 1430.4 532.9 1432.0 545.0C1432.9 552.0 1433.8 563.7 1434.7 580.0C1435.1 586.6 1435.4 602.6 1435.8 608.5C1437.4 633.6 1438.9 635.3 1440.5 656.0C1441.3 666.1 1442.0 687.0 1442.8 696.3C1444.1 712.5 1445.5 721.9 1446.8 731.9C1448.4 743.7 1449.9 752.8 1451.5 762.3C1452.8 769.9 1454.0 777.6 1455.3 783.9C1456.5 789.9 1457.7 795.4 1458.9 800.0C1460.6 806.5 1462.3 810.2 1464.0 816.9C1465.4 822.4 1466.8 829.6 1468.2 837.1C1469.3 843.2 1470.5 855.6 1471.6 857.4C1475.2 863.1 1478.9 862.4 1482.5 865.8C1485.3 868.5 1488.2 871.6 1491.0 875.9C1493.2 879.3 1495.5 886.4 1497.7 889.5C1501.1 894.1 1504.4 897.6 1507.8 899.6C1511.8 902.0 1515.7 902.5 1519.7 904.6C1524.2 907.0 1528.7 912.2 1533.2 914.8C1538.8 918.0 1544.4 919.9 1550.0 922.4C1555.6 924.9 1561.3 927.3 1566.9 930.0C1572.5 932.7 1578.2 936.2 1583.8 938.4C1589.2 940.5 1594.6 941.7 1600.0 943.5C1605.1 945.2 1610.2 947.5 1615.3 948.8C1623.7 951.0 1632.2 952.1 1640.6 953.8C1649.1 955.5 1657.5 958.4 1666.0 958.9C1674.4 959.4 1682.9 959.7 1691.3 959.7C1696.2 959.7 1701.1 958.4 1706.0 957.5C1711.2 956.6 1716.3 955.4 1721.5 954.2C1725.5 953.2 1729.5 950.9 1733.5 950.9C1736.1 950.9 1738.6 951.5 1741.2 951.5C1744.1 951.5 1747.1 949.9 1750.0 949.3C1752.9 948.7 1755.8 947.6 1758.7 947.6C1762.5 947.6 1766.2 948.4 1770.0 949.0C1773.7 949.6 1777.3 951.7 1781.0 951.7C1784.7 951.7 1788.3 947.4 1792.0 945.0C1795.8 942.5 1799.7 937.5 1803.5 936.6C1806.2 936.0 1808.8 936.0 1811.5 935.5C1813.7 935.1 1815.8 934.3 1818.0 933.9C1822.0 933.1 1826.0 932.5 1830.0 932.0C1832.9 931.6 1835.9 931.3 1838.8 931.0"/>
<path stroke="#800080" d="M338.1 577.1C353.8 573.0 369.4 569.1 385.1 564.9C400.8 560.7 416.5 556.5 432.2 551.7C447.9 546.9 463.7 541.6 479.4 536.0C495.1 530.4 510.8 524.1 526.5 517.9C538.9 513.0 551.3 508.8 563.7 503.0C575.8 497.4 587.9 489.9 600.0 483.0C610.5 477.0 620.9 470.8 631.4 464.4C641.9 458.0 652.3 451.8 662.8 444.5C668.0 440.9 673.3 436.9 678.5 432.7C684.5 427.9 690.4 422.2 696.4 417.0C703.5 410.7 710.7 404.4 717.8 398.2C723.0 393.7 728.3 388.7 733.5 384.8C738.7 380.9 744.0 377.5 749.2 374.6C754.4 371.7 759.7 369.8 764.9 367.2C773.1 363.1 781.4 359.1 789.6 354.2C794.5 351.3 799.3 347.7 804.2 344.3C809.4 340.6 814.7 336.7 819.9 333.0C825.1 329.3 830.4 325.2 835.6 322.0C840.8 318.8 846.1 315.7 851.3 313.4C855.0 311.8 858.6 309.5 862.3 309.4C869.1 309.1 875.9 309.0 882.7 309.0C888.5 309.0 894.2 309.2 900.0 309.2C907.1 309.2 914.3 307.8 921.4 307.8C929.1 307.8 936.7 309.6 944.4 310.3C951.1 310.9 957.9 312.0 964.6 312.0C969.1 312.0 973.6 308.2 978.1 306.1C983.7 303.5 989.4 300.1 995.0 297.6C1000.6 295.1 1006.3 292.8 1011.9 290.9C1017.5 289.0 1023.2 287.5 1028.8 285.8C1034.4 284.1 1040.1 282.4 1045.7 280.8C1050.5 279.5 1055.2 278.1 1060.0 277.0C1068.3 275.1 1076.7 273.7 1085.0 272.3C1093.3 270.9 1101.7 269.5 1110.0 268.3C1118.5 267.1 1126.9 265.6 1135.4 265.1C1143.8 264.6 1152.1 264.5 1160.5 264.1C1168.9 263.7 1177.2 263.3 1185.6 262.9C1194.0 262.5 1202.4 261.4 1210.8 261.4C1219.2 261.4 1227.6 261.5 1236.0 261.8C1242.3 262.0 1248.7 263.9 1255.0 265.5C1260.0 266.7 1265.0 269.9 1270.0 270.5C1282.7 272.0 1295.3 272.0 1308.0 273.0C1320.7 274.0 1333.3 274.8 1346.0 276.8C1354.4 278.2 1362.9 282.2 1371.3 285.7C1379.7 289.2 1388.2 292.0 1396.6 298.4C1401.7 302.2 1406.7 312.0 1411.8 318.6C1416.4 324.6 1420.9 329.1 1425.5 336.3C1427.1 338.9 1428.8 342.7 1430.4 345.5C1432.8 349.6 1435.1 351.5 1437.5 356.6C1440.7 363.5 1444.0 381.8 1447.2 392.0C1450.6 402.6 1453.9 405.6 1457.3 419.9C1459.0 427.1 1460.7 445.2 1462.4 457.8C1464.1 470.4 1465.8 478.1 1467.5 495.8C1468.1 501.7 1468.6 511.1 1469.2 520.5C1469.6 527.7 1470.1 536.5 1470.5 545.0C1471.1 556.1 1471.6 570.1 1472.2 580.0C1472.8 591.0 1473.5 600.4 1474.1 608.5C1475.6 627.3 1477.0 643.2 1478.5 656.0C1480.4 672.3 1482.2 685.0 1484.1 696.3C1486.4 710.2 1488.7 719.6 1491.0 731.9C1492.8 741.7 1494.7 752.2 1496.5 762.3C1497.8 769.5 1499.1 777.1 1500.4 783.9C1501.5 789.5 1502.5 795.9 1503.6 800.0C1505.9 808.8 1508.1 814.8 1510.4 820.3C1513.5 827.8 1516.6 831.6 1519.7 838.8C1522.1 844.5 1524.6 853.5 1527.0 859.1C1530.2 866.4 1533.3 873.0 1536.5 877.6C1540.5 883.3 1544.4 887.1 1548.4 891.1C1553.4 896.2 1558.5 899.8 1563.5 904.6C1568.0 908.9 1572.5 914.5 1577.0 918.1C1581.3 921.6 1585.7 925.0 1590.0 926.8C1595.6 929.2 1601.3 930.0 1606.9 931.9C1612.5 933.8 1618.2 936.5 1623.8 938.6C1629.4 940.7 1635.0 942.6 1640.6 944.6C1646.2 946.6 1651.9 948.7 1657.5 950.5C1663.1 952.3 1668.8 954.0 1674.4 955.5C1680.0 957.0 1685.7 959.7 1691.3 959.7C1701.4 959.7 1711.4 959.6 1721.5 959.4C1725.5 959.3 1729.5 959.1 1733.5 958.9C1737.2 958.7 1740.8 958.6 1744.5 958.3C1748.2 958.0 1751.8 956.7 1755.5 955.6C1757.3 955.0 1759.2 954.2 1761.0 953.4C1762.5 952.7 1764.0 952.0 1765.5 951.1C1767.7 949.8 1769.8 947.6 1772.0 946.5C1774.9 945.0 1777.8 943.6 1780.7 943.2C1782.5 942.9 1784.4 943.0 1786.2 942.7C1788.8 942.3 1791.4 940.7 1794.0 940.0C1797.2 939.1 1800.3 938.3 1803.5 937.8C1806.2 937.3 1808.8 937.2 1811.5 936.7C1813.7 936.3 1815.8 935.5 1818.0 935.0C1821.0 934.2 1824.0 932.8 1827.0 932.8C1829.5 932.8 1832.1 947.9 1834.6 947.9C1836.0 947.9 1837.4 946.6 1838.8 946.0"/>
<path stroke="#800000" d="M338.1 580.0C353.8 577.5 369.4 575.1 385.1 572.4C400.8 569.7 416.5 566.8 432.2 563.5C447.9 560.2 463.7 556.3 479.4 552.0C495.1 547.7 510.8 542.2 526.5 537.2C538.9 533.2 551.3 529.4 563.7 525.0C577.5 520.1 591.2 515.2 605.0 508.8C613.8 504.7 622.6 499.5 631.4 494.4C636.6 491.4 641.9 488.2 647.1 484.9C652.3 481.6 657.6 478.1 662.8 474.3C668.0 470.5 673.3 466.1 678.5 462.1C684.5 457.5 690.4 453.1 696.4 448.7C700.9 445.4 705.4 442.0 709.9 439.0C715.1 435.5 720.4 431.7 725.6 429.1C730.9 426.5 736.1 424.3 741.4 422.5C746.6 420.7 751.9 419.3 757.1 418.1C762.3 416.9 767.6 416.2 772.8 415.0C778.4 413.7 784.0 412.1 789.6 409.9C794.5 408.0 799.3 405.3 804.2 402.1C809.4 398.7 814.7 393.5 819.9 388.7C825.1 383.9 830.4 378.3 835.6 373.3C840.8 368.3 846.1 363.4 851.3 358.9C855.0 355.7 858.6 351.8 862.3 349.8C866.5 347.5 870.7 345.7 874.9 344.8C880.1 343.6 885.4 342.8 890.6 342.4C893.7 342.2 896.9 342.1 900.0 341.9C903.5 341.6 907.1 341.0 910.6 340.5C914.2 339.9 917.8 339.5 921.4 338.5C924.3 337.7 927.1 335.6 930.0 334.0C934.8 331.4 939.6 327.0 944.4 325.5C950.0 323.8 955.7 323.5 961.3 322.1C966.9 320.7 972.5 318.2 978.1 316.2C983.7 314.2 989.4 311.8 995.0 310.3C1001.8 308.5 1008.5 307.8 1015.3 306.1C1022.6 304.3 1029.9 301.7 1037.2 299.3C1042.7 297.5 1048.1 295.0 1053.6 293.4C1059.4 291.7 1065.2 290.5 1071.0 289.2C1076.7 288.0 1082.5 287.3 1088.2 285.8C1093.7 284.3 1099.2 281.0 1104.7 279.1C1110.3 277.1 1116.0 275.1 1121.6 274.0C1127.2 272.9 1132.9 272.3 1138.5 271.5C1144.1 270.7 1149.8 269.7 1155.4 268.9C1163.6 267.7 1171.8 266.2 1180.0 265.6C1188.3 264.9 1196.7 264.7 1205.0 264.2C1213.5 263.7 1221.9 262.9 1230.4 262.4C1238.8 261.9 1247.3 261.3 1255.7 260.9C1260.5 260.7 1265.2 260.4 1270.0 260.4C1286.9 260.4 1303.7 262.6 1320.6 264.2C1337.5 265.8 1354.4 267.4 1371.3 270.5C1381.4 272.3 1391.5 277.3 1401.6 279.4C1411.7 281.5 1421.9 281.6 1432.0 284.4C1437.1 285.8 1442.1 289.6 1447.2 293.3C1454.0 298.2 1460.7 304.2 1467.5 313.5C1472.6 320.5 1477.6 334.9 1482.7 345.5C1487.7 356.0 1492.8 362.5 1497.8 376.8C1501.2 386.5 1504.6 404.3 1508.0 419.9C1510.5 431.5 1513.1 444.7 1515.6 457.8C1518.1 470.9 1520.7 479.3 1523.2 498.4C1523.9 503.7 1524.6 512.9 1525.3 520.5C1526.0 528.4 1526.8 535.0 1527.5 545.0C1528.2 554.1 1528.8 567.4 1529.5 580.0C1530.0 588.8 1530.4 601.3 1530.9 608.5C1532.3 629.6 1533.6 641.6 1535.0 656.0C1536.4 670.7 1537.8 687.0 1539.2 696.3C1541.6 712.5 1544.1 719.3 1546.5 731.9C1548.3 741.4 1550.2 749.3 1552.0 762.3C1552.8 768.0 1553.6 778.0 1554.4 783.9C1555.3 790.3 1556.1 795.9 1557.0 800.0C1558.8 808.7 1560.7 813.2 1562.5 820.3C1564.0 826.1 1565.5 834.4 1567.0 838.8C1569.8 847.2 1572.7 852.0 1575.5 857.4C1578.8 863.8 1582.2 868.9 1585.5 874.3C1587.0 876.7 1588.5 878.8 1590.0 881.3C1593.1 886.4 1596.2 894.4 1599.3 898.1C1604.6 904.4 1610.0 907.0 1615.3 911.6C1620.9 916.5 1626.6 922.0 1632.2 926.8C1636.8 930.7 1641.4 935.2 1646.0 938.0C1649.7 940.2 1653.3 941.7 1657.0 943.5C1660.7 945.3 1664.3 947.3 1668.0 949.0C1672.0 950.8 1676.0 952.4 1680.0 954.0C1684.3 955.7 1688.5 958.8 1692.8 958.8C1697.2 958.8 1701.6 958.7 1706.0 958.6C1711.2 958.5 1716.3 957.6 1721.5 957.1C1726.0 956.6 1730.5 956.2 1735.0 955.7C1740.0 955.1 1745.0 954.4 1750.0 953.5C1755.2 952.6 1760.3 951.0 1765.5 950.0C1770.6 949.0 1775.6 948.4 1780.7 947.4C1785.1 946.5 1789.6 945.6 1794.0 944.5C1797.2 943.7 1800.3 942.6 1803.5 941.7C1806.2 940.9 1808.8 940.3 1811.5 939.5C1813.7 938.9 1815.8 938.1 1818.0 937.5C1821.0 936.6 1824.0 935.6 1827.0 935.1C1830.9 934.4 1834.9 934.0 1838.8 933.5"/>
</g>
<text transform="matrix(0.9489 0 0 0.9866 149.36 103.01)">135</text>
<text transform="matrix(0.9538 0 0 0.9851 196.34 277.83)">90</text>
<text transform="matrix(0.9447 0 0 1.0000 197.11 453.80)">45</text>
<text transform="matrix(0.9571 0 0 0.9776 243.87 629.04)">0</text>
<text transform="matrix(0.9496 0 0 0.9879 165.40 805.21)">-45</text>
<text transform="matrix(0.9528 0 0 0.9836 164.99 980.73)">-90</text>
<text transform="matrix(0.9411 0 0 0.9806 119.44 1157.52)">-135</text>
<text transform="matrix(0.9304 0 0 0.9721 278.78 1247.96)">0.1</text>
<text transform="matrix(0.9486 0 0 0.9697 1062.46 1247.80)">1</text>
<text transform="matrix(0.9690 0 0 0.9721 1788.08 1247.96)">10</text>
<text font-weight="bold" stroke="#fff" stroke-width="1" transform="matrix(0.9950 0 0 1.0080 0 1359.30)" x="686.1 739.2 780.3 825.7 883.6 940.5 987.0 1043.2 1086.7 1136.7 1160.4 1192.2 1270.4 1349.5 1395.0">Frequency [GHz]</text>
<text font-weight="bold" stroke="#fff" stroke-width="1" transform="matrix(0 -0.9850 0.9980 0 120.90 900.00)" x="88.3 148.2 203.8 253.4 296.0 346.0 364.4 395.9 433.9">Phase [°]</text>
</svg></body></html>
